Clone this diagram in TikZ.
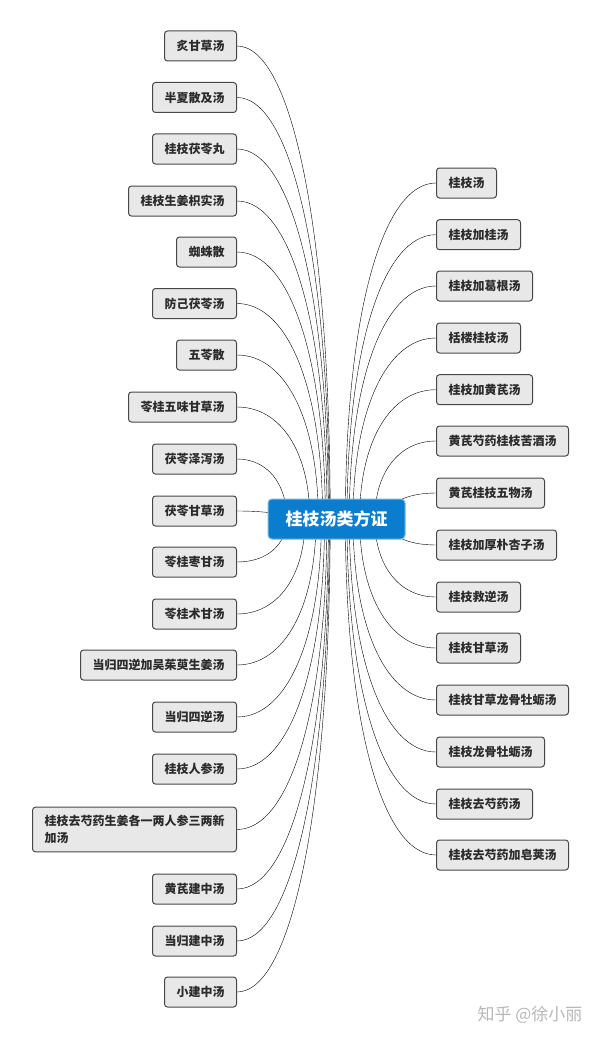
\documentclass[tikz,border=0pt]{standalone}
\usepackage{fontspec}
\setmainfont{Noto Sans CJK SC}
\usetikzlibrary{positioning, calc, backgrounds}

\definecolor{hubblue}{HTML}{0B7DCF}
\definecolor{leafgray}{HTML}{E8E8E8}
\definecolor{inkgray}{HTML}{2B2B2B}

\begin{document}
\begin{tikzpicture}[
		x=1pt, y=-1pt,
		hub/.style={fill=hubblue, draw=hubblue!55!white, line width=1pt, rounded corners=4pt, text=white,
			font=\bfseries\fontsize{17}{20}\selectfont, minimum width=137pt, minimum height=40pt, inner sep=0pt},
		leaf/.style={fill=leafgray, draw=black!72, line width=1pt, rounded corners=3pt, text=inkgray,
			font=\bfseries\fontsize{12}{17}\selectfont, inner xsep=12pt, inner ysep=0pt, minimum height=30pt},
		lleaf/.style={leaf, anchor=east},
		rleaf/.style={leaf, anchor=west},
		branch/.style={draw=inkgray, line width=0.9pt, to path={
				let \p1=(\tikztostart), \p2=(\tikztotarget),
				\n1={min(0.5, 30/max(abs((\y2)-(\y1)), 1))},
				\p3=({\x2+\n1*((\x1)-(\x2))}, \y2) in
				.. controls ({\x1+0.6*((\x3)-(\x1))}, \y1) and (\x3, {\y3+0.6*((\y1)-(\y3))}) .. (\p3)}}
		]
		
		\useasboundingbox (0,0) rectangle (600,1038);
		
		% --- central topic ---
		\node[hub] (hub) at (336.5,519) {桂枝汤类方证};
		
		% --- left branch ---
		\node[lleaf] (l1) at (237,46) {炙甘草汤};
		\node[lleaf] (l2) at (237,97.5) {半夏散及汤};
		\node[lleaf] (l3) at (237,149) {桂枝茯苓丸};
		\node[lleaf] (l4) at (237,201) {桂枝生姜枳实汤};
		\node[lleaf] (l5) at (237,252) {蜘蛛散};
		\node[lleaf] (l6) at (237,303.5) {防己茯苓汤};
		\node[lleaf] (l7) at (237,355) {五苓散};
		\node[lleaf] (l8) at (237,407) {苓桂五味甘草汤};
		\node[lleaf] (l9) at (237,459) {茯苓泽泻汤};
		\node[lleaf] (l10) at (237,511) {茯苓甘草汤};
		\node[lleaf] (l11) at (237,562) {苓桂枣甘汤};
		\node[lleaf] (l12) at (237,614) {苓桂术甘汤};
		\node[lleaf] (l13) at (237,665) {当归四逆加吴茱萸生姜汤};
		\node[lleaf] (l14) at (237,717) {当归四逆汤};
		\node[lleaf] (l15) at (237,769) {桂枝人参汤};
		\node[lleaf, align=left, inner ysep=8pt] (l16) at (237,829.5) {桂枝去芍药生姜各一两人参三两新\\加汤};
		\node[lleaf] (l17) at (237,889) {黄芪建中汤};
		\node[lleaf] (l18) at (237,941) {当归建中汤};
		\node[lleaf] (l19) at (237,992) {小建中汤};
		
		% --- right branch ---
		\node[rleaf] (r1) at (436,183) {桂枝汤};
		\node[rleaf] (r2) at (436,234.7) {桂枝加桂汤};
		\node[rleaf] (r3) at (436,286) {桂枝加葛根汤};
		\node[rleaf] (r4) at (436,338) {栝楼桂枝汤};
		\node[rleaf] (r5) at (436,389.7) {桂枝加黄芪汤};
		\node[rleaf] (r6) at (436,441) {黄芪芍药桂枝苦酒汤};
		\node[rleaf] (r7) at (436,493) {黄芪桂枝五物汤};
		\node[rleaf] (r8) at (436,545) {桂枝加厚朴杏子汤};
		\node[rleaf] (r9) at (436,597) {桂枝救逆汤};
		\node[rleaf] (r10) at (436,648) {桂枝甘草汤};
		\node[rleaf] (r11) at (436,700) {桂枝甘草龙骨牡蛎汤};
		\node[rleaf] (r12) at (436,752) {桂枝龙骨牡蛎汤};
		\node[rleaf] (r13) at (436,804) {桂枝去芍药汤};
		\node[rleaf] (r14) at (436,855) {桂枝去芍药加皂荚汤};
		
		% watermark
		\node[anchor=east, text=black!28, font=\fontsize{17}{17}\selectfont] (mark) at (586,1015) {知乎 @徐小丽};
		
		% --- curved connectors, kept under the boxes ---
		\begin{scope}[on background layer]
			\fill[white] (0,0) rectangle (600,1038);
			\foreach \i in {1,...,19} \draw (l\i.east) to[branch] (hub.center);
			\foreach \i in {1,...,14} \draw (r\i.west) to[branch] (hub.center);
		\end{scope}
		
	\end{tikzpicture}
\end{document}
